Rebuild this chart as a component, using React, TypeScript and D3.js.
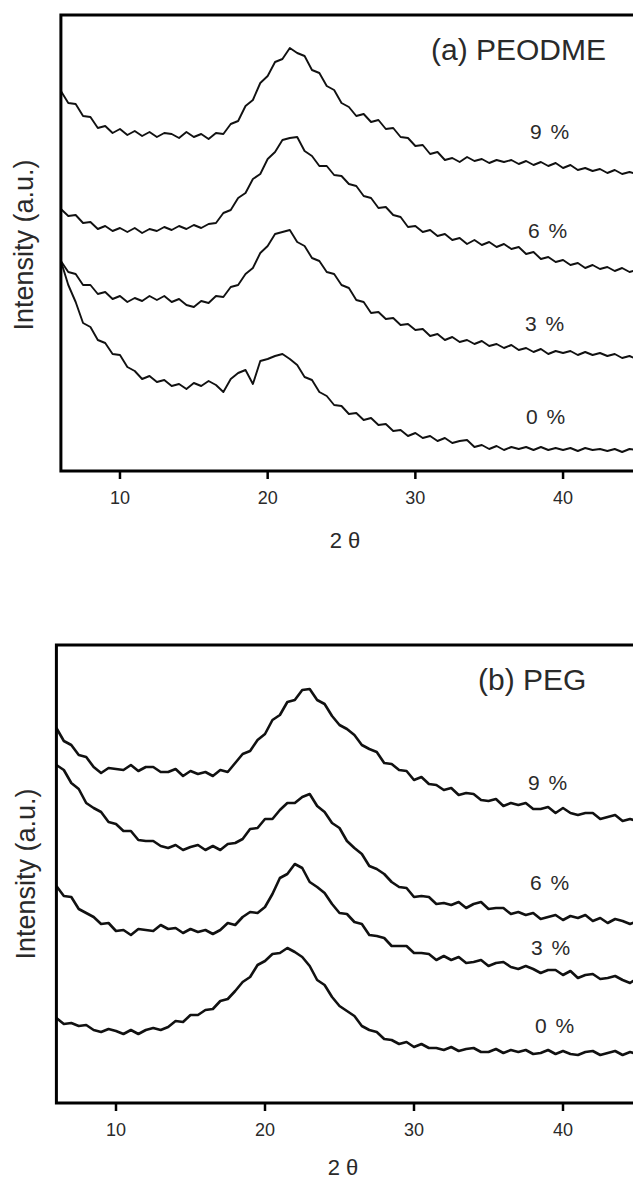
import React from "react";
import * as d3 from "d3";

// 2θ grid (degrees)
const twoTheta = [6,6.5,7,7.5,8,8.5,9,9.5,10,10.5,11,11.5,12,12.5,13,13.5,14,14.5,15,15.5,16,16.5,17,17.5,18,18.5,19,19.5,20,20.5,21,21.5,22,22.5,23,23.5,24,24.5,25,25.5,26,26.5,27,27.5,28,28.5,29,29.5,30,30.5,31,31.5,32,32.5,33,33.5,34,34.5,35,35.5,36,36.5,37,37.5,38,38.5,39,39.5,40,40.5,41,41.5,42,42.5,43,43.5,44,44.5,45];

// (a) PEODME, intensity (a.u., offset stacked)
const peodme9 = [380,368,367,355,354,343,345,338,342,336,340,335,339,334,338,337,333,339,334,337,332,338,337,347,350,365,371,388,395,409,412,423,418,415,401,398,385,381,368,364,355,357,349,351,342,343,334,333,325,326,317,319,311,313,309,314,310,312,308,311,309,311,307,310,306,309,305,308,303,306,301,303,300,302,298,301,297,299,297];
const peodme6 = [262,255,256,248,249,242,245,240,243,239,243,238,242,240,244,241,245,242,246,243,247,248,258,261,273,278,292,297,312,319,331,333,334,320,315,305,305,296,295,287,285,275,273,263,264,256,254,244,245,239,241,235,237,231,233,227,231,226,229,224,227,222,224,217,219,212,214,209,211,206,208,203,206,202,204,200,203,199,201];
const peodme3 = [210,199,197,186,186,177,179,172,175,169,173,170,175,171,175,169,172,166,164,170,168,175,174,184,186,197,203,218,225,237,239,241,229,225,213,210,199,197,186,183,171,169,158,159,152,153,146,147,141,142,135,137,131,134,129,131,127,130,125,127,123,126,121,123,119,122,117,120,118,120,116,119,116,118,115,117,113,115,112];
const peodme0 = [210,186,169,148,144,131,128,117,116,104,100,92,95,89,91,85,87,82,88,85,90,86,79,92,98,101,87,110,112,115,117,112,106,94,91,79,75,66,65,57,58,51,53,46,47,40,41,35,38,33,35,30,33,28,30,31,24,26,22,25,21,24,22,24,21,24,21,23,21,23,20,23,21,22,20,22,19,22,21];

// (b) PEG
const peg9 = [375,362,358,348,346,336,330,335,334,333,338,332,336,336,331,331,334,327,332,329,331,327,333,331,340,349,352,363,369,383,388,401,403,413,414,403,399,387,378,374,368,358,354,351,340,339,333,332,323,326,319,318,313,315,308,310,309,303,302,304,297,300,298,300,294,294,296,290,295,290,288,290,290,284,286,288,282,284,282];
const peg6 = [338,333,320,314,300,295,291,281,279,272,272,263,262,262,257,255,258,253,256,258,253,257,253,259,260,264,274,275,284,284,293,300,300,306,309,297,291,280,275,262,255,249,237,234,229,221,216,215,206,207,206,199,200,198,201,195,199,201,194,195,195,189,191,188,190,184,186,188,183,187,185,188,182,185,180,184,182,179,182];
const peg3 = [217,207,206,194,190,186,179,180,172,173,168,174,173,172,178,174,175,170,174,171,173,169,173,180,178,186,191,190,196,209,225,229,239,235,221,216,210,199,190,189,181,179,168,167,165,157,157,157,150,150,149,143,147,143,146,140,141,143,137,140,141,136,134,137,134,130,133,133,128,132,125,128,129,124,125,127,123,120,125];
const peg0 = [85,79,80,77,78,73,71,74,72,69,73,69,73,75,73,76,82,81,88,88,93,94,102,104,112,121,126,138,142,149,150,155,151,146,137,123,118,106,97,92,87,77,73,71,64,63,59,61,56,59,55,55,53,56,52,54,55,51,51,54,50,53,51,53,49,50,53,49,52,49,48,51,52,48,50,52,48,51,49];

const curveLabels = ["9 %", "6 %", "3 %", "0 %"];
const xTicks = [10, 20, 30, 40];

const FONT = "'Liberation Sans', Arial, 'DejaVu Sans', sans-serif";
const TXT = "#2a2a2a";

type Panel = {
  title: string;
  titleX: number;
  titleY: number;
  left: number;
  right: number;
  top: number;
  bottom: number;
  yMax: number;
  series: number[][];
  labelPos: [number, number][];
  ylabX: number;
  ylabY: number;
  xlabX: number;
  xlabY: number;
  strokeW: number;
};

const panels: Panel[] = [
  {
    title: "(a) PEODME", titleX: 431, titleY: 60,
    left: 60.9, right: 636.9, top: 15, bottom: 471, yMax: 456,
    series: [peodme9, peodme6, peodme3, peodme0],
    labelPos: [[530, 139], [528, 238], [525, 331], [526, 424]],
    ylabX: 33, ylabY: 245, xlabX: 345, xlabY: 548, strokeW: 1.9,
  },
  {
    title: "(b) PEG", titleX: 478, titleY: 690,
    left: 56.4, right: 637.5, top: 645, bottom: 1103, yMax: 458,
    series: [peg9, peg6, peg3, peg0],
    labelPos: [[528, 790], [530, 890], [531, 955], [535, 1033]],
    ylabX: 35, ylabY: 874, xlabX: 343, xlabY: 1175, strokeW: 2.6,
  },
];

function PanelView({ p }: { p: Panel }) {
  const x = d3.scaleLinear().domain([6, 45]).range([p.left, p.right]);
  const y = d3.scaleLinear().domain([0, p.yMax]).range([p.bottom, p.top]);
  const line = d3
    .line<number>()
    .x((_, i) => x(twoTheta[i]))
    .y((d) => y(d))
    .curve(d3.curveLinear);
  return (
    <g>
      {p.series.map((s, i) => (
        <path key={i} d={line(s) || ""} fill="none" stroke="#111" strokeWidth={p.strokeW} strokeLinejoin="round" />
      ))}
      {/* frame */}
      <path
        d={`M${p.right},${p.top}H${p.left}V${p.bottom}H${p.right}`}
        fill="none"
        stroke="#000"
        strokeWidth={3}
      />
      {xTicks.map((t) => (
        <g key={t}>
          <line x1={x(t)} x2={x(t)} y1={p.bottom} y2={p.bottom + 8} stroke="#000" strokeWidth={2.5} />
          <text x={x(t)} y={p.bottom + 33} textAnchor="middle" fontSize={18} fontFamily={FONT} fill={TXT}>
            {t}
          </text>
        </g>
      ))}
      {curveLabels.map((l, i) => (
        <text key={l} x={p.labelPos[i][0]} y={p.labelPos[i][1]} fontSize={21} fontFamily={FONT} fill={TXT} letterSpacing={1.5}>
          {l}
        </text>
      ))}
      <text x={p.titleX} y={p.titleY} fontSize={30} fontFamily={FONT} fill={TXT}>
        {p.title}
      </text>
      <text
        transform={`translate(${p.ylabX},${p.ylabY}) rotate(-90)`}
        textAnchor="middle"
        fontSize={27}
        fontFamily={FONT}
        fill={TXT}
      >
        Intensity (a.u.)
      </text>
      <text x={p.xlabX} y={p.xlabY} textAnchor="middle" fontSize={22} fontFamily={FONT} fill={TXT}>
        2 θ
      </text>
    </g>
  );
}

export default function App() {
  return (
    <svg
      width={633}
      height={1180}
      viewBox="0 0 633 1180"
      style={{ position: "absolute", left: 0, top: 0, background: "#fff" }}
    >
      <rect x={0} y={0} width={633} height={1180} fill="#fff" />
      {panels.map((p) => (
        <PanelView key={p.title} p={p} />
      ))}
    </svg>
  );
}
